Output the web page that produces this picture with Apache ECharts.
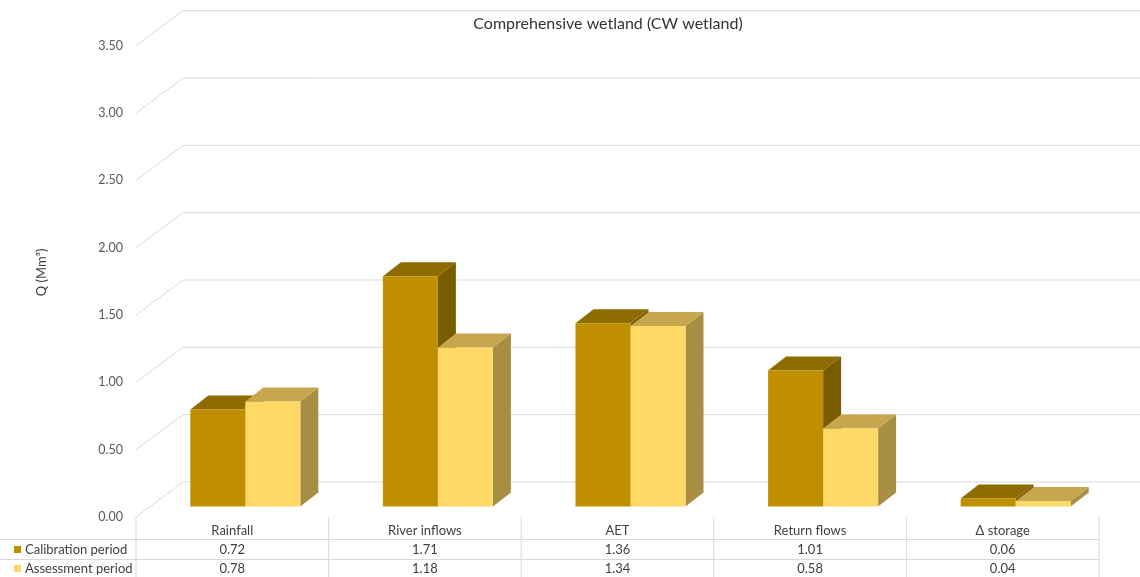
<!DOCTYPE html>
<html>
<head>
<meta charset="utf-8">
<script src="https://cdn.jsdelivr.net/npm/echarts@6/dist/echarts.min.js"></script>
<style>
  html, body { margin: 0; padding: 0; background: #ffffff; }
  #chart { width: 1140px; height: 577px; }
</style>
</head>
<body>
<div id="chart"></div>
<script>
// Water balance components of the comprehensive wetland (Mm³)
const categories = ['Rainfall', 'River inflows', 'AET', 'Return flows', 'Δ storage'];
const calibration = [0.72, 1.71, 1.36, 1.01, 0.06];
const assessment = [0.78, 1.18, 1.34, 0.58, 0.04];
const yTicks = [0, 0.5, 1, 1.5, 2, 2.5, 3, 3.5];
const seriesNames = ['Calibration period', 'Assessment period'];

// Oblique projection used to fake the 3-D look
const WALL = { dx: 47, dy: -35 };        // back wall offset from the front plane
const BAR_FRONT = { dx: 13, dy: -10.5 }; // front face of the columns
const BAR_DEPTH = { dx: 18, dy: -14 };   // column thickness
const BAR_RATIO = 0.2856;                // column width / category band

const FONT = 'Lato, "Open Sans", sans-serif';
const TEXT = '#404040';
const LINE = '#d9d9d9';

const faces = [
  { front: '#BF8F00', top: '#8E6C00', side: '#7A5C00' },
  { front: '#FFD966', top: '#C6A64F', side: '#A88E42' }
];

function barRenderer(side) {
  const f = faces[side];
  return function (params, api) {
    const i = api.value(0);
    const v = api.value(1);
    const base = api.coord([i, 0]);
    const top = api.coord([i, v]);
    const w = api.size([1, 0])[0] * BAR_RATIO;
    const x0 = base[0] + BAR_FRONT.dx - (side === 0 ? w : 0);
    const x1 = x0 + w;
    const yb = base[1] + BAR_FRONT.dy;
    const yt = top[1] + BAR_FRONT.dy;
    const dx = BAR_DEPTH.dx, dy = BAR_DEPTH.dy;
    return {
      type: 'group',
      children: [
        { type: 'polygon', shape: { points: [[x1, yb], [x1 + dx, yb + dy], [x1 + dx, yt + dy], [x1, yt]] }, style: { fill: f.side } },
        { type: 'polygon', shape: { points: [[x0, yt], [x1, yt], [x1 + dx, yt + dy], [x0 + dx, yt + dy]] }, style: { fill: f.top } },
        { type: 'rect', shape: { x: x0, y: yt, width: w, height: yb - yt }, style: { fill: f.front } }
      ]
    };
  };
}

// Gridlines: run along the left wall, then across the back wall
function gridRenderer(params, api) {
  const cs = params.coordSys;
  const p = api.coord([0, api.value(1)]);
  const x = cs.x;
  return {
    type: 'polyline',
    shape: { points: [[x, p[1]], [x + WALL.dx, p[1] + WALL.dy], [cs.x + cs.width + 100, p[1] + WALL.dy]] },
    style: { stroke: LINE, lineWidth: 1, fill: null },
    silent: true
  };
}

// Data table under the plot: header row plus one row per period
function tableRenderer(params, api) {
  const cs = params.coordSys;
  const i = api.value(0);
  const cx = api.coord([i, 0])[0];
  const band = api.size([1, 0])[0];
  const left = cx - band / 2, right = cx + band / 2;
  const y0 = cs.y + cs.height;
  const rows = [y0 + 22.5, y0 + 42.5];
  const lineStart = i === 0 ? 0 : left;
  const children = [
    { type: 'text', style: { text: categories[i], x: cx, y: y0 + 13.5, align: 'center', verticalAlign: 'middle', font: '13px ' + FONT, fill: TEXT } },
    { type: 'text', style: { text: api.value(1).toFixed(2), x: cx, y: y0 + 32.5, align: 'center', verticalAlign: 'middle', font: '13px ' + FONT, fill: TEXT } },
    { type: 'text', style: { text: api.value(2).toFixed(2), x: cx, y: y0 + 51.5, align: 'center', verticalAlign: 'middle', font: '13px ' + FONT, fill: TEXT } },
    { type: 'line', shape: { x1: right, y1: y0, x2: right, y2: y0 + 70 }, style: { stroke: LINE, lineWidth: 1 } }
  ];
  rows.forEach(function (ry) {
    children.push({ type: 'line', shape: { x1: lineStart, y1: ry, x2: right, y2: ry }, style: { stroke: LINE, lineWidth: 1 } });
  });
  if (i === 0) {
    children.push({ type: 'line', shape: { x1: left, y1: y0, x2: left, y2: y0 + 70 }, style: { stroke: LINE, lineWidth: 1 } });
  }
  return { type: 'group', children: children };
}

const chart = echarts.init(document.getElementById('chart'), null, { renderer: 'canvas' });

chart.setOption({
  animation: false,
  backgroundColor: '#ffffff',
  textStyle: { fontFamily: FONT },
  title: {
    text: 'Comprehensive wetland (CW wetland)',
    left: 603,
    textAlign: 'center',
    top: 11,
    textStyle: { fontSize: 16, fontWeight: 'normal', color: '#333333', fontFamily: FONT }
  },
  legend: {
    data: seriesNames,
    orient: 'vertical',
    left: 14,
    top: 543,
    padding: 0,
    itemGap: 6,
    itemWidth: 7,
    itemHeight: 7,
    icon: 'rect',
    selectedMode: false,
    textStyle: { fontSize: 13, color: TEXT, fontFamily: FONT, padding: [0, 0, 0, -1] }
  },
  grid: { left: 136, right: 41, top: 45.7, bottom: 60 },
  xAxis: {
    type: 'category',
    data: categories,
    axisLine: { show: false },
    axisTick: { show: false },
    axisLabel: { show: false },
    splitLine: { show: false }
  },
  yAxis: {
    type: 'value',
    min: 0,
    max: 3.5,
    interval: 0.5,
    name: 'Q (Mm³)',
    nameLocation: 'middle',
    nameRotate: 90,
    nameGap: 88,
    nameTextStyle: { fontSize: 13, color: TEXT, fontFamily: FONT, padding: [0, 0, 0, 18] },
    axisLine: { show: false },
    axisTick: { show: false },
    splitLine: { show: false },
    axisLabel: {
      margin: 13,
      fontSize: 12.5,
      color: '#595959',
      fontFamily: FONT,
      formatter: function (v) { return v.toFixed(2); }
    }
  },
  series: [
    {
      type: 'custom',
      name: 'gridlines',
      renderItem: gridRenderer,
      data: yTicks.map(function (v) { return [0, v]; }),
      z: 1,
      silent: true
    },
    {
      type: 'custom',
      name: seriesNames[0],
      renderItem: barRenderer(0),
      itemStyle: { color: faces[0].front },
      data: calibration.map(function (v, i) { return [i, v]; }),
      z: 2
    },
    {
      type: 'custom',
      name: seriesNames[1],
      renderItem: barRenderer(1),
      itemStyle: { color: faces[1].front },
      data: assessment.map(function (v, i) { return [i, v]; }),
      z: 3
    },
    {
      type: 'custom',
      name: 'table',
      renderItem: tableRenderer,
      data: categories.map(function (c, i) { return [i, calibration[i], assessment[i]]; }),
      z: 1,
      silent: true
    }
  ]
});
</script>
</body>
</html>
